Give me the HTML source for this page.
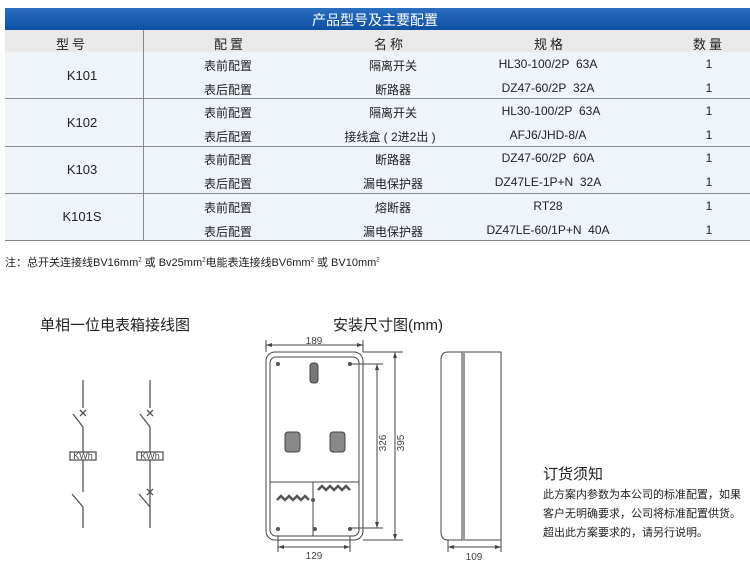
<!DOCTYPE html>
<html><head><meta charset="utf-8"><style>
body{margin:0;width:750px;height:573px;background:#fff;position:relative;overflow:hidden;font-family:"Liberation Sans","Noto Sans CJK SC",sans-serif;color:#222}
.a{position:absolute;white-space:nowrap}
.c{position:absolute;transform:translateX(-50%);white-space:nowrap;font-size:12px}
</style></head><body>
<div class="a" style="left:5px;top:8px;width:745px;height:22px;background:linear-gradient(#2a6fc0,#0e4fa0);"></div>
<div class="c" style="left:375px;top:10px;color:#fff;font-size:14px">产品型号及主要配置</div>
<div class="a" style="left:5px;top:30px;width:745px;height:22px;background:#e9e9e9"></div>
<div class="a" style="left:5px;top:52px;width:745px;height:188px;background:#eef4fa"></div>
<div class="a" style="left:5px;top:98px;width:745px;height:1px;background:#888"></div>
<div class="a" style="left:5px;top:146px;width:745px;height:1px;background:#888"></div>
<div class="a" style="left:5px;top:193px;width:745px;height:1px;background:#888"></div>
<div class="a" style="left:5px;top:240px;width:745px;height:1px;background:#888"></div>
<div class="a" style="left:143px;top:30px;width:1px;height:210px;background:#888"></div>
<div class="c" style="left:72px;top:34px;font-size:13px;letter-spacing:3px">型号</div>
<div class="c" style="left:230px;top:34px;font-size:13px;letter-spacing:3px">配置</div>
<div class="c" style="left:390px;top:34px;font-size:13px;letter-spacing:3px">名称</div>
<div class="c" style="left:550px;top:34px;font-size:13px;letter-spacing:3px">规格</div>
<div class="c" style="left:709px;top:34px;font-size:13px;letter-spacing:3px">数量</div>
<div class="c" style="left:82px;top:68px;font-size:13px">K101</div>
<div class="c" style="left:82px;top:115px;font-size:13px">K102</div>
<div class="c" style="left:82px;top:162px;font-size:13px">K103</div>
<div class="c" style="left:82px;top:209px;font-size:13px">K101S</div>
<div class="c" style="left:228px;top:57px">表前配置</div><div class="c" style="left:393px;top:57px">隔离开关</div><div class="c" style="left:548px;top:57px">HL30-100/2P&nbsp; 63A</div><div class="c" style="left:709px;top:57px">1</div>
<div class="c" style="left:228px;top:81px">表后配置</div><div class="c" style="left:393px;top:81px">断路器</div><div class="c" style="left:548px;top:81px">DZ47-60/2P&nbsp; 32A</div><div class="c" style="left:709px;top:81px">1</div>
<div class="c" style="left:228px;top:104px">表前配置</div><div class="c" style="left:393px;top:104px">隔离开关</div><div class="c" style="left:551px;top:104px">HL30-100/2P&nbsp; 63A</div><div class="c" style="left:709px;top:104px">1</div>
<div class="c" style="left:228px;top:128px">表后配置</div><div class="c" style="left:390px;top:128px">接线盒 ( 2进2出 )</div><div class="c" style="left:548px;top:128px">AFJ6/JHD-8/A</div><div class="c" style="left:709px;top:128px">1</div>
<div class="c" style="left:228px;top:151px">表前配置</div><div class="c" style="left:393px;top:151px">断路器</div><div class="c" style="left:548px;top:151px">DZ47-60/2P&nbsp; 60A</div><div class="c" style="left:709px;top:151px">1</div>
<div class="c" style="left:228px;top:175px">表后配置</div><div class="c" style="left:393px;top:175px">漏电保护器</div><div class="c" style="left:548px;top:175px">DZ47LE-1P+N&nbsp; 32A</div><div class="c" style="left:709px;top:175px">1</div>
<div class="c" style="left:228px;top:199px">表前配置</div><div class="c" style="left:393px;top:199px">熔断器</div><div class="c" style="left:548px;top:199px">RT28</div><div class="c" style="left:709px;top:199px">1</div>
<div class="c" style="left:228px;top:223px">表后配置</div><div class="c" style="left:393px;top:223px">漏电保护器</div><div class="c" style="left:548px;top:223px">DZ47LE-60/1P+N&nbsp; 40A</div><div class="c" style="left:709px;top:223px">1</div>
<div class="a" style="left:5px;top:254px;font-size:11px">注：总开关连接线BV16mm<sup style="font-size:6px">2</sup> 或 Bv25mm<sup style="font-size:6px">2</sup>电能表连接线BV6mm<sup style="font-size:6px">2</sup> 或 BV10mm<sup style="font-size:6px">2</sup></div>
<div class="a" style="left:40px;top:314px;font-size:15px">单相一位电表箱接线图</div>
<div class="a" style="left:333px;top:314px;font-size:15px">安装尺寸图(mm)</div>
<div class="a" style="left:543px;top:463px;font-size:15px">订货须知</div>
<div class="a" style="left:543px;top:486px;font-size:11px;line-height:19px">此方案内参数为本公司的标准配置，如果<br>客户无明确要求，公司将标准配置供货。<br>超出此方案要求的，请另行说明。</div>
<svg class="a" style="left:0;top:0" width="750" height="573" fill="none" stroke="#444" stroke-width="1">
<g stroke="#555" stroke-width="1.3">
<path d="M83 380V408M73 414L83 427V452M83 460V492M72 494L83 507V528"/>
<path d="M80 410l6 6M86 410l-6 6"/>
<rect x="70" y="452" width="26" height="8"/>
<path d="M150 380V408M140 414L150 427V452M150 460V528M139 494L150 507"/>
<path d="M147 410l6 6M153 410l-6 6M147 489l6 6M153 489l-6 6"/>
<rect x="137" y="452" width="26" height="8"/>
</g>
<text x="83" y="459" font-size="9" fill="#444" stroke="none" text-anchor="middle" font-family="Liberation Sans">KWh</text>
<text x="150" y="459" font-size="9" fill="#444" stroke="none" text-anchor="middle" font-family="Liberation Sans">KWh</text>
<rect x="266" y="352" width="97" height="188" rx="9"/>
<rect x="270" y="357" width="89" height="179" rx="6"/>
<path d="M270 482H359M313 482V536"/>
<rect x="310" y="363" width="8" height="20" rx="3" fill="#777"/>
<rect x="285" y="432" width="15" height="20" rx="3" fill="#888"/>
<rect x="330" y="432" width="15" height="20" rx="3" fill="#888"/>
<g fill="#555" stroke="none"><circle cx="278" cy="364" r="2"/><circle cx="350" cy="364" r="2"/><circle cx="278" cy="529" r="2"/><circle cx="350" cy="529" r="2"/><circle cx="315" cy="529" r="2"/><circle cx="313" cy="500" r="2"/></g>
<path d="M277 500l4-4 4 4 4-4 4 4 4-4 4 4 4-4 4 4M318 490l4-4 4 4 4-4 4 4 4-4 4 4 4-4 4 4" stroke="#555" stroke-width="2.5"/>
<path d="M266 345H363M266 340V352M363 340V352M278 547H350M278 536V552M350 536V552"/>
<path d="M350 364H383M350 528H383M377 364V528M363 352H403M363 540H403M395 352V540"/>
<path d="M448 352H501V540H448M462 352V540" />
<path d="M448 352Q441 352 441 360V532Q441 540 448 540" />
<rect x="462" y="352" width="3" height="188" fill="#999" stroke="none"/>
<path d="M448 547H501M448 540V552M501 540V552"/>
<g fill="#444" stroke="none">
<path d="M266 345l6-2v4zM363 345l-6-2v4zM278 547l6-2v4zM350 547l-6-2v4zM377 364l-2 6h4zM377 528l-2-6h4zM395 352l-2 6h4zM395 540l-2-6h4zM448 547l6-2v4zM501 547l-6-2v4z"/>
</g>
<g fill="#444" stroke="none" font-size="10" font-family="Liberation Sans" text-anchor="middle">
<text x="314" y="344">189</text><text x="314" y="559">129</text><text x="474" y="560">109</text>
<text transform="translate(386 443) rotate(-90)">326</text>
<text transform="translate(404 443) rotate(-90)">395</text>
</g>
</svg>
</body></html>
